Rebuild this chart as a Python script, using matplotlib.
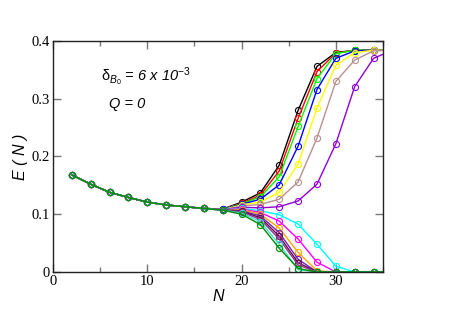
import numpy as np
import matplotlib
matplotlib.use("Agg")
import matplotlib.pyplot as plt
from matplotlib.ticker import MultipleLocator, FuncFormatter

plt.rcParams['mathtext.fontset'] = 'custom'
plt.rcParams['mathtext.rm'] = 'Liberation Sans'
plt.rcParams['mathtext.it'] = 'Liberation Sans:italic'

# common trunk, N = 2 .. 16
N_trunk = [2, 4, 6, 8, 10, 12, 14, 16]
E_trunk = [0.168, 0.152, 0.138, 0.129, 0.121, 0.116, 0.113, 0.110]

# branches, N = 18 .. 36
N_branch = [18, 20, 22, 24, 26, 28, 30, 32, 34, 36]
E_black     = [0.109, 0.121, 0.137, 0.185, 0.280, 0.356, 0.380, 0.384, 0.384, 0.384]
E_red       = [0.109, 0.119, 0.133, 0.175, 0.266, 0.347, 0.379, 0.384, 0.384, 0.384]
E_green     = [0.109, 0.118, 0.130, 0.165, 0.252, 0.335, 0.378, 0.384, 0.384, 0.384]
E_blue      = [0.109, 0.117, 0.126, 0.151, 0.218, 0.316, 0.370, 0.383, 0.384, 0.384]
E_yellow    = [0.108, 0.116, 0.121, 0.138, 0.187, 0.284, 0.358, 0.380, 0.384, 0.384]
E_brown     = [0.108, 0.114, 0.117, 0.126, 0.156, 0.232, 0.330, 0.367, 0.383, 0.384]
E_violet    = [0.108, 0.112, 0.111, 0.113, 0.123, 0.152, 0.222, 0.321, 0.370, 0.384]
E_cyan      = [0.108, 0.110, 0.106, 0.099, 0.083, 0.048, 0.010, 0.0, 0.0, 0.0]
E_magenta   = [0.108, 0.109, 0.103, 0.088, 0.057, 0.017, 0.0, 0.0, 0.0, 0.0]
E_orange    = [0.108, 0.108, 0.100, 0.076, 0.034, 0.002, 0.0, 0.0, 0.0, 0.0]
E_indigo    = [0.108, 0.106, 0.097, 0.068, 0.022, 0.0, 0.0, 0.0, 0.0, 0.0]
E_maroon    = [0.107, 0.105, 0.094, 0.062, 0.016, 0.0, 0.0, 0.0, 0.0, 0.0]
E_purple    = [0.107, 0.104, 0.091, 0.057, 0.012, 0.0, 0.0, 0.0, 0.0, 0.0]
E_turquoise = [0.107, 0.102, 0.087, 0.048, 0.004, 0.0, 0.0, 0.0, 0.0, 0.0]
E_green4    = [0.107, 0.100, 0.082, 0.041, 0.006, 0.0, 0.0, 0.0, 0.0, 0.0]

series = [
    (E_black, '#000000'),
    (E_red, '#ff0000'),
    (E_green, '#00ff00'),
    (E_blue, '#0000ff'),
    (E_yellow, '#ffff00'),
    (E_brown, '#bc8f8f'),
    (E_violet, '#9400d3'),
    (E_cyan, '#00ffff'),
    (E_magenta, '#ff00ff'),
    (E_orange, '#ffa500'),
    (E_indigo, '#7221bc'),
    (E_maroon, '#670748'),
    (E_purple, '#8b3a8b'),
    (E_turquoise, '#40e0d0'),
    (E_green4, '#008b00'),
]

fig = plt.figure(figsize=(4.57, 3.23), dpi=100)
ax = fig.add_axes([0.116, 0.158, 0.722, 0.715])

for E, c in series:
    xs = N_trunk + N_branch
    ys = E_trunk + E
    ax.plot(xs, ys, color=c, lw=1.0, marker='o', ms=4.4, mfc='none',
            mec=c, mew=0.8)

ax.set_xlim(0, 35)
ax.set_ylim(0, 0.4)
ax.xaxis.set_major_locator(MultipleLocator(10))
ax.xaxis.set_minor_locator(MultipleLocator(5))
ax.yaxis.set_major_locator(MultipleLocator(0.1))
fmt = FuncFormatter(lambda v, p: '%g' % round(v, 2))
ax.xaxis.set_major_formatter(fmt)
ax.yaxis.set_major_formatter(fmt)
ax.tick_params(which='both', direction='in', top=True, right=True,
               color='#777777', width=1.0)
ax.tick_params(which='major', length=6, pad=2)
ax.tick_params(which='minor', length=3.5)
for lab in ax.get_xticklabels() + ax.get_yticklabels():
    lab.set_family('Liberation Serif')
    lab.set_fontsize(10.5)
for s in ax.spines.values():
    s.set_linewidth(1.0)
    s.set_color('#222222')

ax.set_xlabel('N', family='Liberation Sans', style='italic', fontsize=11.5, labelpad=1)
ax.set_ylabel('E ( N )', family='Liberation Sans', style='italic', fontsize=11.5, labelpad=3)

ax.text(0.145, 0.845, r'$\mathrm{\delta}_{B_0}$' + ' = 6 x 10$^{-3}$', transform=ax.transAxes,
        family='Liberation Sans', style='italic', fontsize=10.5, va='center')
ax.text(0.17, 0.728, 'Q = 0', transform=ax.transAxes,
        family='Liberation Sans', style='italic', fontsize=10.5, va='center')

fig.savefig('out.png', dpi=100)
